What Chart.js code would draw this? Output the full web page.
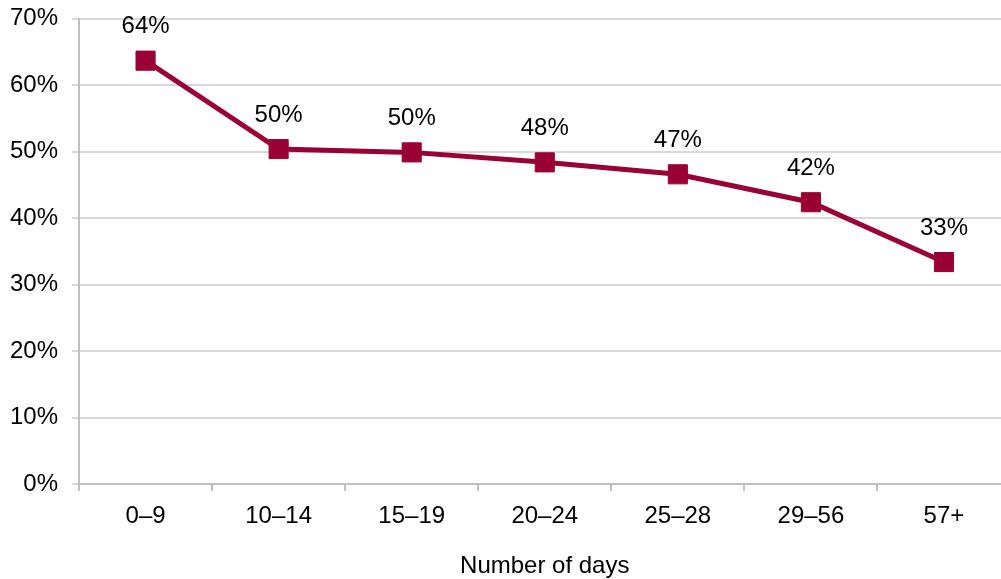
<!DOCTYPE html>
<html>
<head>
<meta charset="utf-8">
<script src="https://cdn.jsdelivr.net/npm/chart.js@4.4.1/dist/chart.umd.min.js"></script>
<style>
  html, body { margin: 0; padding: 0; background: #fff; overflow: hidden; }
  #clip { width: 1001px; height: 579px; overflow: hidden; position: relative; }
  #inner { width: 1025px; height: 579px; position: absolute; left: 0; top: 0; }
  canvas { display: block; }
</style>
</head>
<body>
<div id="clip"><div id="inner"><canvas id="chart" width="1025" height="579"></canvas></div></div>
<script>
// Data
const categories = ['0–9', '10–14', '15–19', '20–24', '25–28', '29–56', '57+'];
const shareValues = [63.7, 50.4, 49.9, 48.4, 46.6, 42.4, 33.4];
const yTicks = [0, 10, 20, 30, 40, 50, 60, 70];

const lineColor = '#990033';
const fontFamily = "'Liberation Sans', Arial, sans-serif";

// simple value labels above each point
const pointLabels = {
  id: 'pointLabels',
  afterDatasetsDraw(chart) {
    const ctx = chart.ctx;
    const meta = chart.getDatasetMeta(0);
    ctx.save();
    ctx.font = '24px ' + fontFamily;
    ctx.fillStyle = '#000';
    ctx.textAlign = 'center';
    ctx.textBaseline = 'middle';
    meta.data.forEach((pt, i) => {
      ctx.fillText(Math.round(shareValues[i]) + '%', pt.x, pt.y - 34);
    });
    ctx.restore();
  }
};

new Chart(document.getElementById('chart'), {
  type: 'line',
  data: {
    labels: categories,
    datasets: [{
      data: shareValues,
      borderColor: lineColor,
      backgroundColor: lineColor,
      borderWidth: 5,
      pointStyle: 'rect',
      pointRadius: 13.5,
      pointBorderWidth: 1,
      pointBackgroundColor: lineColor,
      pointBorderColor: lineColor,
      tension: 0
    }]
  },
  options: {
    responsive: false,
    animation: false,
    layout: { padding: { top: 0, left: -4, right: 0, bottom: 0 } },
    plugins: {
      legend: { display: false },
      tooltip: { enabled: false }
    },
    scales: {
      x: {
        type: 'category',
        offset: true,
        grid: {
          offset: true,
          drawOnChartArea: false,
          drawTicks: true,
          tickLength: 7,
          color: '#bfbfbf',
          lineWidth: 2
        },
        border: { color: '#bfbfbf', width: 2 },
        ticks: {
          color: '#000',
          padding: 11,
          font: { family: fontFamily, size: 24 }
        },
        title: {
          display: true,
          text: 'Number of days',
          color: '#000',
          padding: { top: 12, bottom: 0 },
          font: { family: fontFamily, size: 24, lineHeight: 1.05 }
        }
      },
      y: {
        min: 0,
        max: 70,
        afterBuildTicks(axis) {
          axis.ticks = yTicks.map(v => ({ value: v }));
        },
        grid: {
          color: '#d9d9d9',
          lineWidth: 2,
          drawTicks: true,
          tickLength: 7
        },
        border: { color: '#bfbfbf', width: 2 },
        ticks: {
          color: '#000',
          padding: 14,
          font: { family: fontFamily, size: 24, lineHeight: 0.4 },
          callback: v => v + '%'
        }
      }
    }
  },
  plugins: [pointLabels]
});
</script>
</body>
</html>
